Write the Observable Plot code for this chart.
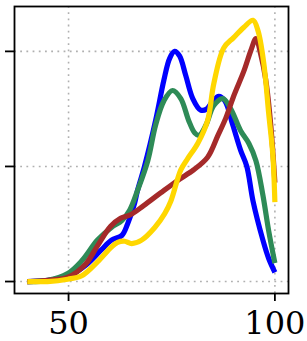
<!DOCTYPE html>
<html>
<head>
<meta charset="utf-8">
<script src="https://cdn.jsdelivr.net/npm/d3@7"></script>
<script src="https://cdn.jsdelivr.net/npm/@observablehq/plot@0.6"></script>
<style>
  html, body { margin: 0; padding: 0; background: #fff; }
  #chart svg { display: block; }
</style>
</head>
<body>
<div id="chart"></div>
<script>
const xTicks = [50, 100];
const yTicks = [0, 1, 2];

const blueX = [40, 45.1, 50, 54.1, 57.8, 60.4, 62.9, 64.3, 66.0, 66.7, 68.4, 71.1, 73.1, 74.5, 75.7, 76.9, 78.4, 80.1, 82.0, 83.5, 85.0, 86.4, 87.9, 89.8, 91.7, 93.2, 94.7, 97.1, 98.5, 100];
const blueY = [0, 0.01, 0.05, 0.14, 0.27, 0.36, 0.40, 0.50, 0.68, 0.79, 1.0, 1.40, 1.75, 1.94, 2.0, 1.96, 1.79, 1.59, 1.49, 1.50, 1.57, 1.61, 1.57, 1.36, 1.14, 1.0, 0.70, 0.36, 0.20, 0.08];

const brownX = [40, 45.1, 50, 54.1, 57.0, 60.2, 62.6, 65.0, 68.2, 72.3, 76.5, 80.3, 83.7, 86.2, 88.1, 90.0, 92.5, 94.2, 95.4, 96.6, 97.8, 99.0, 100];
const brownY = [0, 0.01, 0.04, 0.15, 0.31, 0.48, 0.55, 0.58, 0.66, 0.77, 0.88, 0.97, 1.08, 1.27, 1.42, 1.61, 1.83, 2.01, 2.11, 1.97, 1.75, 1.36, 0.86];

const greenX = [40, 44.9, 49.8, 53.2, 57.0, 60.4, 62.9, 64.8, 66.7, 69.2, 71.1, 73.1, 75.2, 77.2, 79.1, 80.6, 81.6, 83.3, 85.2, 87.4, 89.3, 91.7, 93.7, 95.4, 97.1, 98.5, 100];
const greenY = [0, 0.01, 0.07, 0.18, 0.36, 0.47, 0.53, 0.62, 0.79, 1.05, 1.36, 1.57, 1.66, 1.59, 1.40, 1.29, 1.27, 1.36, 1.53, 1.59, 1.50, 1.31, 1.20, 1.05, 0.75, 0.44, 0.16];

const goldX = [40, 44.9, 49.8, 53.2, 57.0, 60.4, 61.9, 63.6, 65.3, 67.7, 70.9, 73.3, 74.8, 77.2, 78.9, 81.3, 83.7, 85.2, 87.6, 90.0, 92.5, 94.7, 95.9, 97.3, 98.5, 99.5, 100];
const goldY = [0, 0.0, 0.02, 0.05, 0.17, 0.30, 0.34, 0.35, 0.33, 0.36, 0.47, 0.59, 0.70, 0.97, 1.07, 1.20, 1.40, 1.72, 2.03, 2.12, 2.21, 2.27, 2.18, 1.90, 1.46, 1.10, 0.69];

const seriesColors = ["#0000ff", "#2e8b57", "#a52a2a", "#ffd700"];
const seriesX = [blueX, greenX, brownX, goldX];
const seriesY = [blueY, greenY, brownY, goldY];

const tables = seriesX.map((xs, i) => xs.map((x, j) => ({x, y: seriesY[i][j]})));

const font = "'DejaVu Serif', serif";
const grid = {stroke: "#b0b0b0", strokeWidth: 1.6, strokeDasharray: "1.8,4.4", strokeOpacity: 1};

const chart = Plot.plot({
  width: 307,
  height: 341,
  marginLeft: 14,
  marginRight: 19,
  marginTop: 6,
  marginBottom: 48,
  style: {fontFamily: font, background: "#fff", color: "#000"},
  x: {domain: [36.9, 103.3]},
  y: {domain: [-0.104, 2.39]},
  marks: [
    Plot.ruleX(xTicks, {...grid}),
    Plot.ruleY(yTicks, {...grid}),
    ...tables.map((t, i) => Plot.line(t, {
      x: "x", y: "y", stroke: seriesColors[i], strokeWidth: 5.2, curve: "catmull-rom", strokeLinecap: "butt"
    })),
    Plot.frame({stroke: "#000", strokeWidth: 1.8}),
    Plot.axisX(xTicks, {tickSize: 8, tickPadding: 10, fontSize: 32, strokeWidth: 1.8, label: null, fill: "#000"}),
    Plot.axisY(yTicks, {tickSize: 9, tickFormat: () => "", strokeWidth: 1.8, label: null})
  ]
});
document.getElementById("chart").appendChild(chart);
</script>
</body>
</html>
